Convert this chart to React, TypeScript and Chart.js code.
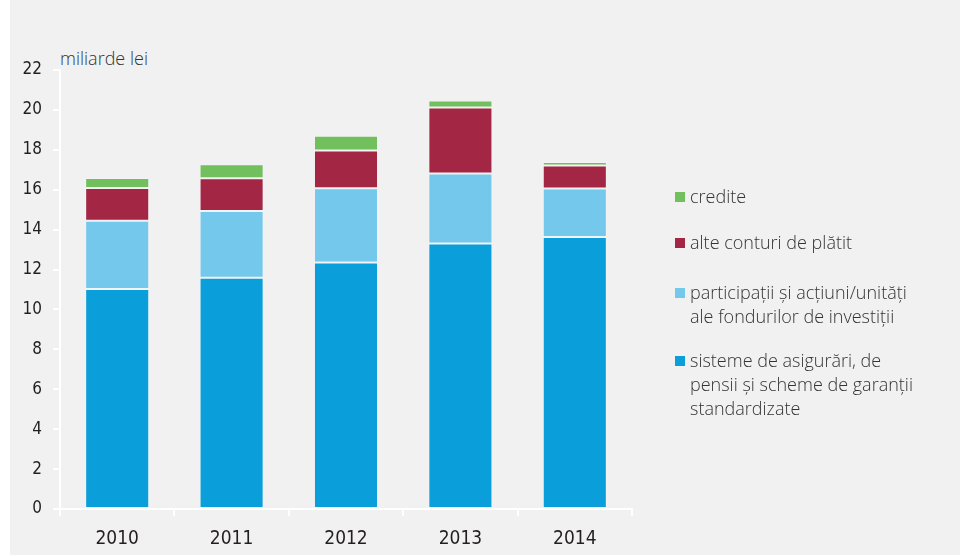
import React, { useEffect, useRef } from "react";
import { Chart, registerables } from "chart.js";

Chart.register(...registerables);

const categories = ["2010", "2011", "2012", "2013", "2014"];
const sisteme = [11.03, 11.59, 12.35, 13.3, 13.63];
const participatii = [3.41, 3.35, 3.72, 3.51, 2.43];
const alteConturi = [1.65, 1.64, 1.89, 3.31, 1.15];
const credite = [0.5, 0.7, 0.74, 0.35, 0.18];

const seriesNames = [
  "sisteme de asigurări, de pensii și scheme de garanții standardizate",
  "participații și acțiuni/unități ale fondurilor de investiții",
  "alte conturi de plătit",
  "credite",
];
const colors = ["#0a9fda", "#74c8ec", "#a32644", "#72bf5e"];

const legendItems = [
  { color: colors[3], lines: ["credite"], top: 184 },
  { color: colors[2], lines: ["alte conturi de plătit"], top: 230 },
  { color: colors[1], lines: ["participații și acțiuni/unități", "ale fondurilor de investiții"], top: 280 },
  { color: colors[0], lines: ["sisteme de asigurări, de", "pensii și scheme de garanții", "standardizate"], top: 348 },
];

const tickFont = "'Liberation Sans Narrow', 'DejaVu Sans Condensed', sans-serif";
const textFont = "'Open Sans', sans-serif";

export default function App() {
  const ref = useRef<HTMLCanvasElement>(null);

  useEffect(() => {
    if (!ref.current) return;
    const data = [sisteme, participatii, alteConturi, credite];
    const chart = new Chart(ref.current, {
      type: "bar",
      data: {
        labels: categories,
        datasets: data.map((d, i) => ({
          label: seriesNames[i],
          data: d,
          backgroundColor: colors[i],
          borderColor: "rgba(255,255,255,0.22)",
          borderWidth: 1,
          borderSkipped: false,
          categoryPercentage: 1,
          barPercentage: 0.56,
        })),
      },
      options: {
        animation: false,
        responsive: false,
        maintainAspectRatio: false,
        layout: { padding: { left: 0, top: 70, right: 328, bottom: 0 } },
        plugins: { legend: { display: false }, tooltip: { enabled: false }, title: { display: false } },
        scales: {
          x: {
            stacked: true,
            afterFit: (s: any) => {
              s.height = 47;
            },
            border: { display: true, color: "#ffffff", width: 2 },
            grid: {
              display: true,
              drawOnChartArea: false,
              drawTicks: true,
              tickLength: 7,
              color: "#ffffff",
              lineWidth: 2,
              offset: true,
            },
            ticks: {
              color: "#231f20",
              font: { family: tickFont, size: 19 },
              padding: 12,
            },
          },
          y: {
            stacked: true,
            min: 0,
            max: 22,
            afterFit: (s: any) => {
              s.width = 60;
            },
            border: { display: true, color: "#ffffff", width: 2 },
            grid: {
              display: true,
              drawOnChartArea: false,
              drawTicks: true,
              tickLength: 7,
              color: "#ffffff",
              lineWidth: 2,
            },
            ticks: {
              stepSize: 2,
              color: "#231f20",
              font: { family: tickFont, size: 17 },
              padding: 11,
            },
          },
        },
      },
    });
    return () => chart.destroy();
  }, []);

  return (
    <div style={{ position: "fixed", left: 0, top: 0, width: 960, height: 556, background: "#ffffff", overflow: "hidden" }}>
      <div style={{ position: "absolute", left: 10, top: 0, width: 950, height: 555, background: "#f1f1f1" }} />
      <div
        style={{
          position: "absolute",
          left: 60,
          top: 46,
          fontFamily: textFont,
          fontWeight: 300,
          fontSize: 18,
          color: "#333333",
          lineHeight: "24px",
          whiteSpace: "nowrap",
        }}
      >
        miliarde lei
      </div>
      <canvas ref={ref} width={960} height={556} style={{ position: "absolute", left: 0, top: 0, width: 960, height: 556 }} />
      {legendItems.map((it, i) => (
        <div key={i} style={{ position: "absolute", left: 675, top: it.top }}>
          <div style={{ position: "absolute", left: 0, top: 8, width: 10, height: 10, background: it.color }} />
          <div
            style={{
              position: "absolute",
              left: 15,
              top: 0,
              fontFamily: textFont,
              fontWeight: 300,
              fontSize: 18,
              lineHeight: "24px",
              color: "#333333",
              whiteSpace: "nowrap",
            }}
          >
            {it.lines.map((l, j) => (
              <div key={j}>{l}</div>
            ))}
          </div>
        </div>
      ))}
    </div>
  );
}
